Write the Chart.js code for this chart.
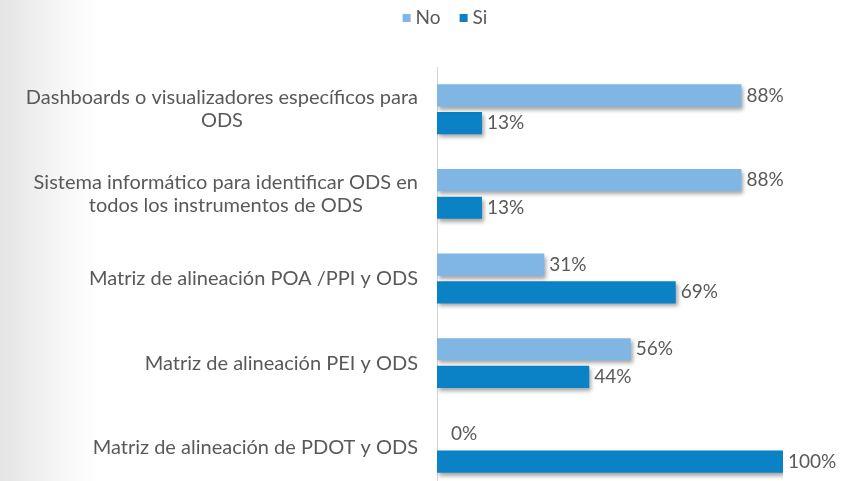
<!DOCTYPE html>
<html>
<head>
<meta charset="utf-8">
<script src="https://cdn.jsdelivr.net/npm/chart.js@4"></script>
<style>
  html, body { margin: 0; padding: 0; overflow: hidden; }
  body { width: 850px; height: 481px; background: linear-gradient(to right, #e4e4e4 0px, #f6f6f6 60px, #ffffff 100px); }
  #wrap { width: 850px; height: 490px; }
</style>
</head>
<body>
<div id="wrap"><canvas id="c" width="850" height="490"></canvas></div>
<script>
// categories, top to bottom
var categories = [
  ['Dashboards o visualizadores específicos para', 'ODS'],
  ['Sistema informático para identificar ODS en', 'todos los instrumentos de ODS'],
  ['Matriz de alineación POA /PPI y ODS'],
  ['Matriz de alineación PEI y ODS'],
  ['Matriz de alineación de PDOT y ODS']
];
var seriesNames = ['No', 'Si'];
var noValues = [88, 88, 31, 56, 0];
var siValues = [13, 13, 69, 44, 100];

var FONT = 'Lato, "Open Sans", sans-serif';
var TEXT = '#595959';

// shadows under the bars
var shadowPlugin = {
  id: 'shadow',
  beforeDatasetsDraw: function (chart) {
    var ctx = chart.ctx;
    ctx.save();
    ctx.shadowColor = 'rgba(0,0,0,0.35)';
    ctx.shadowBlur = 4;
    ctx.shadowOffsetX = 2;
    ctx.shadowOffsetY = 3;
  },
  afterDatasetsDraw: function (chart) {
    var ctx = chart.ctx;
    ctx.restore();
    // value labels
    ctx.save();
    ctx.font = '19px ' + FONT;
    ctx.fillStyle = TEXT;
    ctx.textBaseline = 'middle';
    ctx.textAlign = 'left';
    chart.data.datasets.forEach(function (ds, i) {
      chart.getDatasetMeta(i).data.forEach(function (bar, j) {
        var off = ds.data[j] === 0 ? 14 : 5;
        ctx.fillText(ds.data[j] + '%', bar.x + off, bar.y);
      });
    });
    ctx.restore();
  }
};

// category labels: block right aligned, lines centered in it
var labelPlugin = {
  id: 'catLabels',
  afterDraw: function (chart) {
    var ctx = chart.ctx;
    var scale = chart.scales.y;
    var right = scale.right - 19;
    var lh = 23;
    ctx.save();
    ctx.font = '20px ' + FONT;
    ctx.fillStyle = TEXT;
    ctx.textBaseline = 'middle';
    ctx.textAlign = 'center';
    chart.data.labels.forEach(function (lines, i) {
      var y = scale.getPixelForTick(i);
      var w = 0;
      lines.forEach(function (l) { w = Math.max(w, ctx.measureText(l).width); });
      var cx = right - w / 2;
      var y0 = y - (lines.length - 1) * lh / 2;
      lines.forEach(function (l, k) { ctx.fillText(l, cx, y0 + k * lh); });
    });
    ctx.restore();
  }
};

// legend at the top
var legendPlugin = {
  id: 'topLegend',
  afterDraw: function (chart) {
    var ctx = chart.ctx;
    ctx.save();
    ctx.font = '19px ' + FONT;
    ctx.textBaseline = 'middle';
    var items = chart.data.datasets.map(function (ds) {
      return { text: ds.label, color: ds.backgroundColor, w: 8 + 5 + ctx.measureText(ds.label).width };
    });
    var gap = 19;
    var total = items.reduce(function (s, it) { return s + it.w; }, 0) + gap * (items.length - 1);
    var x = 445 - total / 2;
    var y = 18;
    items.forEach(function (it) {
      ctx.fillStyle = it.color;
      ctx.fillRect(x, y - 4, 8, 8);
      ctx.fillStyle = TEXT;
      ctx.textAlign = 'left';
      ctx.fillText(it.text, x + 13, y);
      x += it.w + gap;
    });
    ctx.restore();
  }
};

new Chart(document.getElementById('c'), {
  type: 'bar',
  data: {
    labels: categories,
    datasets: [
      { label: seriesNames[0], data: noValues, backgroundColor: '#7fb6e4' },
      { label: seriesNames[1], data: siValues, backgroundColor: '#0c82c6' }
    ]
  },
  options: {
    indexAxis: 'y',
    responsive: false,
    animation: false,
    events: [],
    categoryPercentage: 0.655,
    barPercentage: 0.8,
    layout: { padding: { top: 67, right: 67, left: 0, bottom: 0 } },
    plugins: { legend: { display: false }, tooltip: { enabled: false } },
    scales: {
      x: { display: false, min: 0, max: 100 },
      y: {
        grid: { display: false },
        border: { display: true, color: '#d4d4d4', width: 1 },
        ticks: { display: false },
        afterFit: function (s) { s.width = 437; }
      }
    }
  },
  plugins: [shadowPlugin, labelPlugin, legendPlugin]
});
</script>
</body>
</html>
